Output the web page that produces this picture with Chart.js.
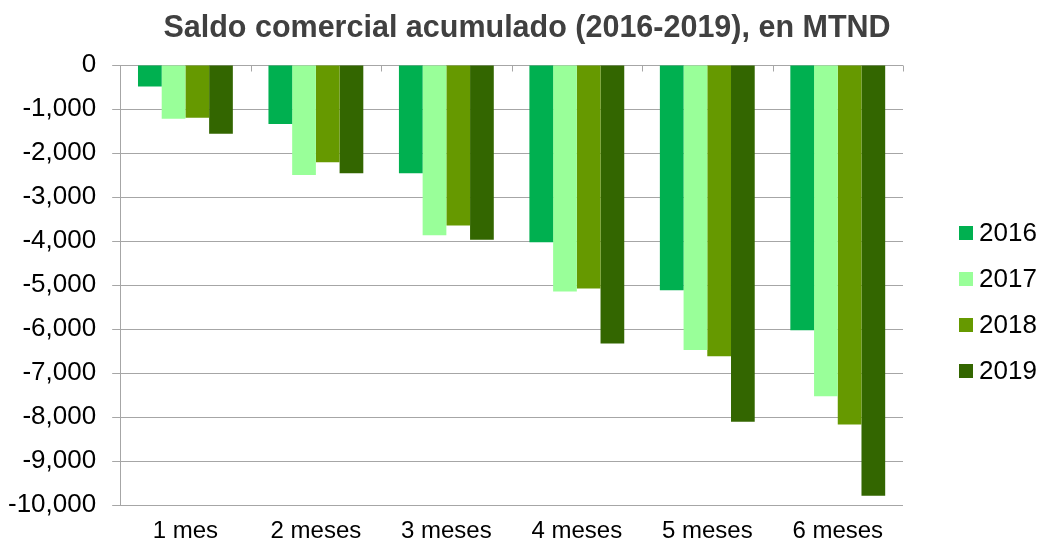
<!DOCTYPE html>
<html>
<head>
<meta charset="utf-8">
<script src="https://cdn.jsdelivr.net/npm/chart.js@4/dist/chart.umd.min.js"></script>
<style>
  body { margin: 0; background: #fff; }
  .saldoChartContainer { width: 1040px; height: 542px; position: relative; }
</style>
</head>
<body>
<div class="saldoChartContainer"><canvas id="saldoChart"></canvas></div>
<script>
"use strict";

var TITLE = 'Saldo comercial acumulado (2016-2019), en MTND';
var CATEGORIES = ['1 mes', '2 meses', '3 meses', '4 meses', '5 meses', '6 meses'];
var YEARS = ['2016', '2017', '2018', '2019'];
var SALDO_2016 = [-490, -1340, -2460, -4030, -5120, -6030];
var SALDO_2017 = [-1220, -2500, -3870, -5150, -6480, -7530];
var SALDO_2018 = [-1200, -2210, -3650, -5080, -6620, -8170];
var SALDO_2019 = [-1560, -2460, -3970, -6330, -8110, -9790];
var Y_MIN = -10000;
var Y_MAX = 0;
var Y_STEP = 1000;

var COLORS = {
  '2016': '#00B050',
  '2017': '#99FF99',
  '2018': '#669900',
  '2019': '#336600'
};
var FONT = '"Liberation Sans", Arial, sans-serif';
var GRID = '#A6A6A6';

// title drawn by hand: in the original it sits centred on the whole canvas, not the plot
var topTitle = {
  id: 'topTitle',
  afterDraw: function (chart) {
    var ctx = chart.ctx;
    ctx.save();
    ctx.font = 'bold 30.5px ' + FONT;
    ctx.fillStyle = '#404040';
    ctx.textAlign = 'center';
    ctx.textBaseline = 'middle';
    ctx.fillText(TITLE, 527, 29);
    ctx.restore();
  }
};

// little tick marks hanging down from the zero line, between categories
var categoryTicks = {
  id: 'categoryTicks',
  afterDatasetsDraw: function (chart) {
    var ctx = chart.ctx;
    var x = chart.scales.x, y = chart.scales.y;
    var y0 = Math.round(y.getPixelForValue(0)) + 0.5;
    var step = (x.right - x.left) / CATEGORIES.length;
    ctx.save();
    ctx.strokeStyle = GRID;
    ctx.lineWidth = 1;
    ctx.beginPath();
    for (let i = 0; i <= CATEGORIES.length; i++) {
      var px = Math.round(x.left + i * step) + 0.5;
      ctx.moveTo(px, y0);
      ctx.lineTo(px, y0 + 6);
    }
    ctx.stroke();
    ctx.restore();
  }
};

// legend on the right, drawn by hand to keep the tight box/text spacing
var sideLegend = {
  id: 'sideLegend',
  afterDraw: function (chart) {
    var ctx = chart.ctx;
    var left = chart.chartArea.right + 56;
    var top = 233;
    ctx.save();
    ctx.font = '26px ' + FONT;
    ctx.textBaseline = 'middle';
    ctx.textAlign = 'left';
    chart.data.datasets.forEach(function (ds, i) {
      var cy = top + i * 46;
      ctx.fillStyle = ds.backgroundColor;
      ctx.fillRect(left, cy - 7, 14, 14);
      ctx.fillStyle = '#000';
      ctx.fillText(ds.label, left + 20, cy + 1);
    });
    ctx.restore();
  }
};

var load_saldo_chart = function () {
  var el = document.getElementById('saldoChart').getContext('2d');
  var series = [SALDO_2016, SALDO_2017, SALDO_2018, SALDO_2019];

  var saldoData = {
    labels: CATEGORIES,
    datasets: YEARS.map(function (year, i) {
      return {
        label: year,
        data: series[i],
        backgroundColor: COLORS[year],
        borderWidth: 0,
        categoryPercentage: 0.727,
        barPercentage: 1
      };
    })
  };

  return new Chart(el, {
    type: 'bar',
    data: saldoData,
    plugins: [topTitle, categoryTicks, sideLegend],
    options: {
      responsive: true,
      maintainAspectRatio: false,
      animation: false,
      layout: {
        autoPadding: false,
        padding: { left: -8, right: 137, top: 65, bottom: -15 }
      },
      scales: {
        x: {
          grid: { display: false, drawTicks: false },
          border: { display: false },
          ticks: {
            color: '#000',
            padding: 14,
            font: { family: FONT, size: 24, lineHeight: 1 }
          }
        },
        y: {
          min: Y_MIN,
          max: Y_MAX,
          grid: { color: GRID, lineWidth: 1, tickLength: 8, tickColor: GRID },
          border: { display: true, color: GRID, width: 1 },
          ticks: {
            stepSize: Y_STEP,
            color: '#000',
            padding: 16,
            font: { family: FONT, size: 26 },
            callback: function (v) { return v.toLocaleString('en-US'); }
          }
        }
      },
      plugins: {
        legend: { display: false },
        tooltip: { enabled: false },
        title: { display: false }
      }
    }
  });
};

load_saldo_chart();
</script>
</body>
</html>
